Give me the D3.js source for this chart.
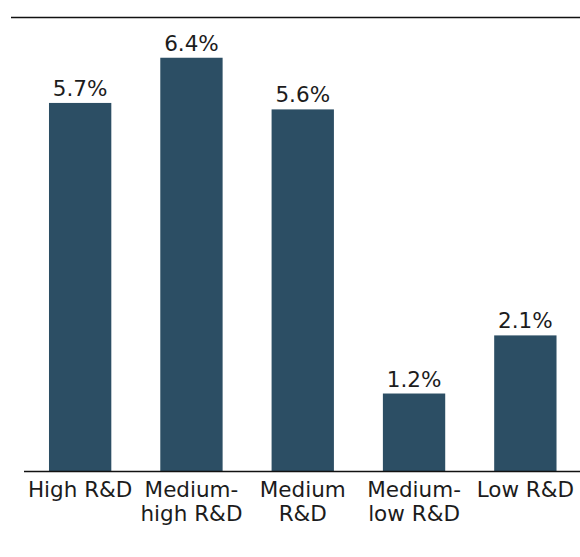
<!DOCTYPE html>
<html>
<head>
<meta charset="utf-8">
<script src="https://cdn.jsdelivr.net/npm/d3@7"></script>
<style>
  html, body { margin: 0; padding: 0; background: #fff; }
  svg { display: block; }
  text { font-family: "DejaVu Sans", sans-serif; fill: #1c1c1c; }
</style>
</head>
<body>
<svg id="chart" width="580" height="557"></svg>
<script>
// R&D intensity groups and their values (percent)
const categories = ["High R&D", "Medium-high R&D", "Medium R&D", "Medium-low R&D", "Low R&D"];
const categoryLines = [["High R&D"], ["Medium-", "high R&D"], ["Medium", "R&D"], ["Medium-", "low R&D"], ["Low R&D"]];
const values = [5.7, 6.4, 5.6, 1.2, 2.1];
const valueLabels = ["5.7%", "6.4%", "5.6%", "1.2%", "2.1%"];

const svg = d3.select("#chart");
const barColor = "#2c4e64";

const x = d3.scaleBand()
  .domain(categories)
  .range([24.5, 581])
  .paddingInner(0.44)
  .paddingOuter(0.22);

const y = d3.scaleLinear()
  .domain([0, 7])
  .range([471, 19]);

// top rule
svg.append("line")
  .attr("x1", 11).attr("x2", 580)
  .attr("y1", 17.5).attr("y2", 17.5)
  .attr("stroke", "#111").attr("stroke-width", 1.5);

// bars
svg.selectAll("rect.bar")
  .data(values)
  .join("rect")
  .attr("class", "bar")
  .attr("x", (d, i) => x(categories[i]))
  .attr("width", x.bandwidth())
  .attr("y", d => y(d))
  .attr("height", d => y(0) - y(d))
  .attr("fill", barColor);

// value labels
svg.selectAll("text.value")
  .data(values)
  .join("text")
  .attr("class", "value")
  .attr("x", (d, i) => x(categories[i]) + x.bandwidth() / 2)
  .attr("y", d => y(d) - 7)
  .attr("text-anchor", "middle")
  .attr("font-size", 21.5)
  .text((d, i) => valueLabels[i]);

// baseline axis
const axis = d3.axisBottom(x).tickSize(0).tickFormat("");
const gAxis = svg.append("g")
  .attr("transform", `translate(0,${y(0)})`)
  .call(axis);
gAxis.select(".domain")
  .attr("d", `M24,0.5H580`)
  .attr("stroke", "#111")
  .attr("stroke-width", 1.5);

// category labels (wrapped)
const labels = svg.selectAll("text.cat")
  .data(categories)
  .join("text")
  .attr("class", "cat")
  .attr("text-anchor", "middle")
  .attr("font-size", 21.5)
  .attr("transform", d => `translate(${x(d) + x.bandwidth() / 2},${y(0) + 26})`);
labels.each(function(d, i) {
  d3.select(this).selectAll("tspan")
    .data(categoryLines[i])
    .join("tspan")
    .attr("x", 0)
    .attr("dy", (t, j) => j === 0 ? 0 : 23.5)
    .text(t => t);
});
</script>
</body>
</html>
